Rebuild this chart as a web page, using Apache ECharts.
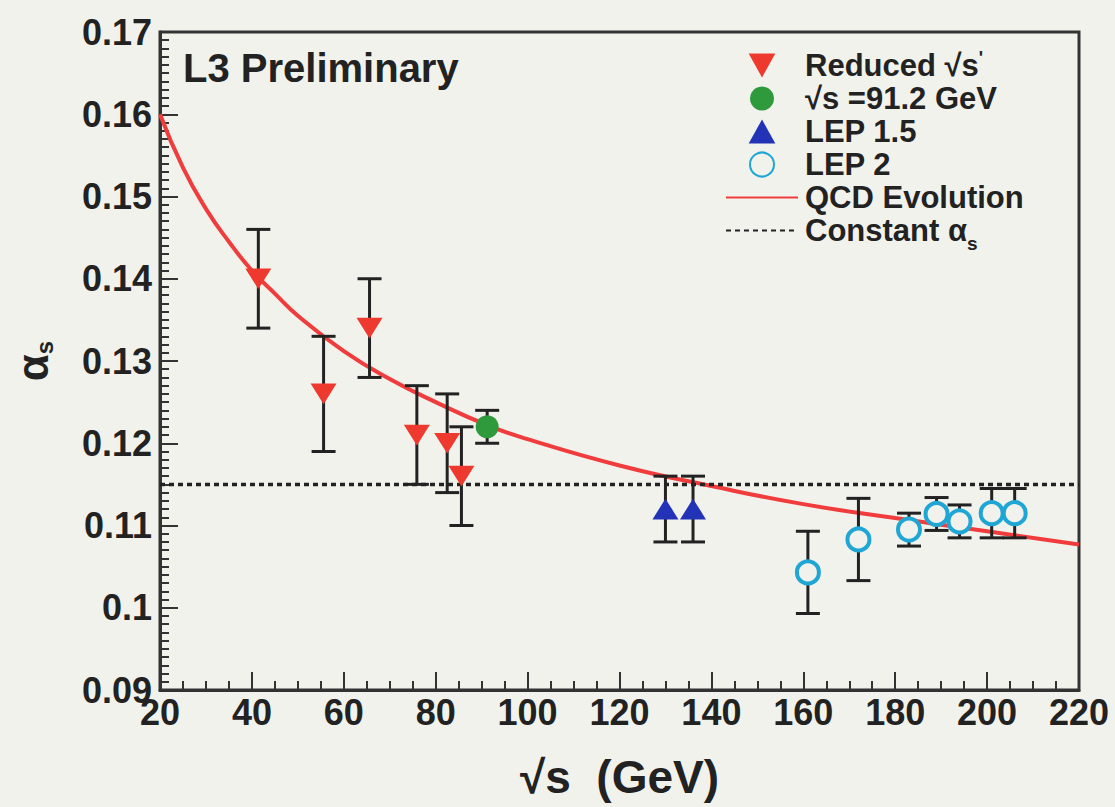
<!DOCTYPE html>
<html>
<head>
<meta charset="utf-8">
<script src="https://cdn.jsdelivr.net/npm/echarts@6/dist/echarts.min.js"></script>
<style>
  html, body { margin: 0; background: #f2f2ec; }
  #chart { width: 1115px; height: 807px; }
</style>
</head>
<body>
<div id="chart"></div>
<script>
// values
var reducedX = [41.4, 55.6, 65.6, 75.9, 82.5, 85.6];
var reducedY = [0.140, 0.126, 0.134, 0.121, 0.120, 0.116];
var reducedErr = [0.006, 0.007, 0.006, 0.006, 0.006, 0.006];

var zX = [91.2];
var zY = [0.122];
var zErr = [0.002];

var lep15X = [130, 136];
var lep15Y = [0.112, 0.112];
var lep15Err = [0.004, 0.004];

var lep2X = [161, 172, 183, 189, 194, 201, 206];
var lep2Y = [0.1043, 0.1083, 0.1095, 0.1114, 0.1105, 0.1115, 0.1115];
var lep2Err = [0.005, 0.005, 0.002, 0.002, 0.002, 0.003, 0.003];

var qcdX = [20, 25, 30, 35, 40, 45, 50, 60, 70, 80, 91.2, 100, 120, 140, 160, 180, 200, 220];
var qcdY = [0.160, 0.1535, 0.1485, 0.1445, 0.141, 0.1382, 0.1355, 0.1312, 0.1278, 0.1250, 0.1222, 0.1205, 0.1173, 0.1148, 0.1126, 0.1109, 0.1093, 0.1077];

var constX = [20, 220];
var constY = [0.115, 0.115];

var xTicks = [20, 220, 20];      // min, max, step
var yTicks = [0.09, 0.17, 0.01];

var FONT = 'Liberation Sans, Arial, Helvetica, sans-serif';
var INK = '#222';

function pairs(xs, ys) {
    return xs.map(function (x, i) { return [x, ys[i]]; });
}
function bars(xs, ys, es) {
    return xs.map(function (x, i) { return [x, ys[i] - es[i], ys[i] + es[i]]; });
}

var errData = [].concat(
    bars(reducedX, reducedY, reducedErr),
    bars(zX, zY, zErr),
    bars(lep15X, lep15Y, lep15Err),
    bars(lep2X, lep2Y, lep2Err)
);

var labelMap = {
    'Reduced': 'Reduced √s{sup|\'}',
    'Z': '√s =91.2 GeV',
    'LEP 1.5': 'LEP 1.5',
    'LEP 2': 'LEP 2',
    'QCD Evolution': 'QCD Evolution',
    'Constant': 'Constant α{sub|s}'
};

var chart = echarts.init(document.getElementById('chart'), null, { renderer: 'svg' });

chart.setOption({
    backgroundColor: '#f2f2ec',
    animation: false,
    title: {
        text: 'L3 Preliminary',
        left: 178,
        top: 43,
        textStyle: { fontFamily: FONT, fontSize: 40, fontWeight: 'bold', color: INK }
    },
    legend: {
        orient: 'vertical',
        left: 720,
        top: 44,
        itemWidth: 72,
        itemHeight: 24,
        itemGap: 0,
        data: ['Reduced', 'Z', 'LEP 1.5', 'LEP 2', 'QCD Evolution', 'Constant'],
        formatter: function (name) { return labelMap[name]; },
        textStyle: {
            fontFamily: FONT, fontSize: 31, fontWeight: 'bold', color: INK, lineHeight: 33, padding: [0, 0, 0, 2],
            rich: {
                sup: { fontFamily: FONT, fontSize: 18, fontWeight: 'bold', color: INK, verticalAlign: 'top', lineHeight: 33 },
                sub: { fontFamily: FONT, fontSize: 19, fontWeight: 'bold', color: INK, verticalAlign: 'bottom', lineHeight: 33, padding: [0, 0, -6, 0] }
            }
        }
    },
    grid: {
        left: 160, right: 36, top: 32, bottom: 117,
        outerBoundsMode: 'none',
        containLabel: false,
        show: true, borderColor: '#333', borderWidth: 3, backgroundColor: 'transparent'
    },
    xAxis: {
        type: 'value',
        min: xTicks[0], max: xTicks[1], interval: xTicks[2],
        name: '√s  (GeV)',
        nameLocation: 'middle',
        nameGap: 64,
        nameTextStyle: { fontFamily: FONT, fontSize: 46, fontWeight: 'bold', color: INK },
        axisLine: { lineStyle: { color: '#333', width: 3 } },
        axisTick: { inside: true, length: 18, lineStyle: { color: '#333', width: 2 } },
        minorTick: { show: true, splitNumber: 4, length: 9, lineStyle: { color: '#333', width: 2 } },
        axisLabel: { fontFamily: FONT, fontSize: 36, fontWeight: 'bold', color: INK, margin: 4 },
        splitLine: { show: false }
    },
    yAxis: {
        type: 'value',
        min: yTicks[0], max: yTicks[1], interval: yTicks[2],
        name: '{a|α}{s|s}',
        nameLocation: 'middle',
        nameRotate: 90,
        nameGap: 104,
        nameTextStyle: {
            rich: {
                a: { fontFamily: FONT, fontSize: 44, fontWeight: 'bold', color: INK, lineHeight: 48 },
                s: { fontFamily: FONT, fontSize: 24, fontWeight: 'bold', color: INK, verticalAlign: 'bottom', lineHeight: 48 }
            }
        },
        axisLine: { lineStyle: { color: '#333', width: 3 } },
        axisTick: { inside: true, length: 18, lineStyle: { color: '#333', width: 2 } },
        minorTick: { show: true, splitNumber: 10, length: 9, lineStyle: { color: '#333', width: 2 } },
        axisLabel: {
            fontFamily: FONT, fontSize: 36, fontWeight: 'bold', color: INK, margin: 8,
            formatter: function (v) { return String(Math.round(v * 100) / 100); }
        },
        splitLine: { show: false }
    },
    series: [
        {
            name: 'QCD Evolution',
            type: 'line',
            smooth: true,
            symbol: 'circle',
            showSymbol: false,
            data: pairs(qcdX, qcdY),
            lineStyle: { color: '#f03c3c', width: 4 },
            itemStyle: { color: 'transparent', borderWidth: 0 },
            z: 1
        },
        {
            name: 'Constant',
            type: 'line',
            symbol: 'circle',
            showSymbol: false,
            data: pairs(constX, constY),
            lineStyle: { color: '#222', width: 3.5, type: [5, 4] },
            itemStyle: { color: 'transparent', borderWidth: 0 },
            z: 1
        },
        {
            name: 'errors',
            type: 'custom',
            data: errData,
            z: 2,
            renderItem: function (params, api) {
                var x = api.value(0);
                var top = api.coord([x, api.value(2)]);
                var bot = api.coord([x, api.value(1)]);
                var w = 12;
                var st = { stroke: '#222', lineWidth: 3 };
                return {
                    type: 'group',
                    children: [
                        { type: 'line', shape: { x1: top[0], y1: top[1], x2: bot[0], y2: bot[1] }, style: st },
                        { type: 'line', shape: { x1: top[0] - w, y1: top[1], x2: top[0] + w, y2: top[1] }, style: st },
                        { type: 'line', shape: { x1: bot[0] - w, y1: bot[1], x2: bot[0] + w, y2: bot[1] }, style: st }
                    ]
                };
            }
        },
        {
            name: 'Reduced',
            type: 'scatter',
            symbol: 'path://M0,0L10,0L5,9Z',
            symbolSize: [26, 23],
            symbolKeepAspect: true,
            data: pairs(reducedX, reducedY),
            itemStyle: { color: '#ee3a2e', opacity: 1 },
            z: 3
        },
        {
            name: 'Z',
            type: 'scatter',
            symbol: 'circle',
            symbolSize: 23,
            symbolKeepAspect: true,
            data: pairs(zX, zY),
            itemStyle: { color: '#2f9a3c', opacity: 1 },
            z: 3
        },
        {
            name: 'LEP 1.5',
            type: 'scatter',
            symbol: 'path://M5,0L10,9L0,9Z',
            symbolSize: [26, 23],
            symbolKeepAspect: true,
            data: pairs(lep15X, lep15Y),
            itemStyle: { color: '#2233b8', opacity: 1 },
            z: 3
        },
        {
            name: 'LEP 2',
            type: 'scatter',
            symbol: 'circle',
            symbolSize: 22,
            symbolKeepAspect: true,
            data: pairs(lep2X, lep2Y),
            itemStyle: { color: '#f2f2ec', borderColor: '#1fa6d4', borderWidth: 4, opacity: 1 },
            z: 3
        }
    ]
});
</script>
</body>
</html>
